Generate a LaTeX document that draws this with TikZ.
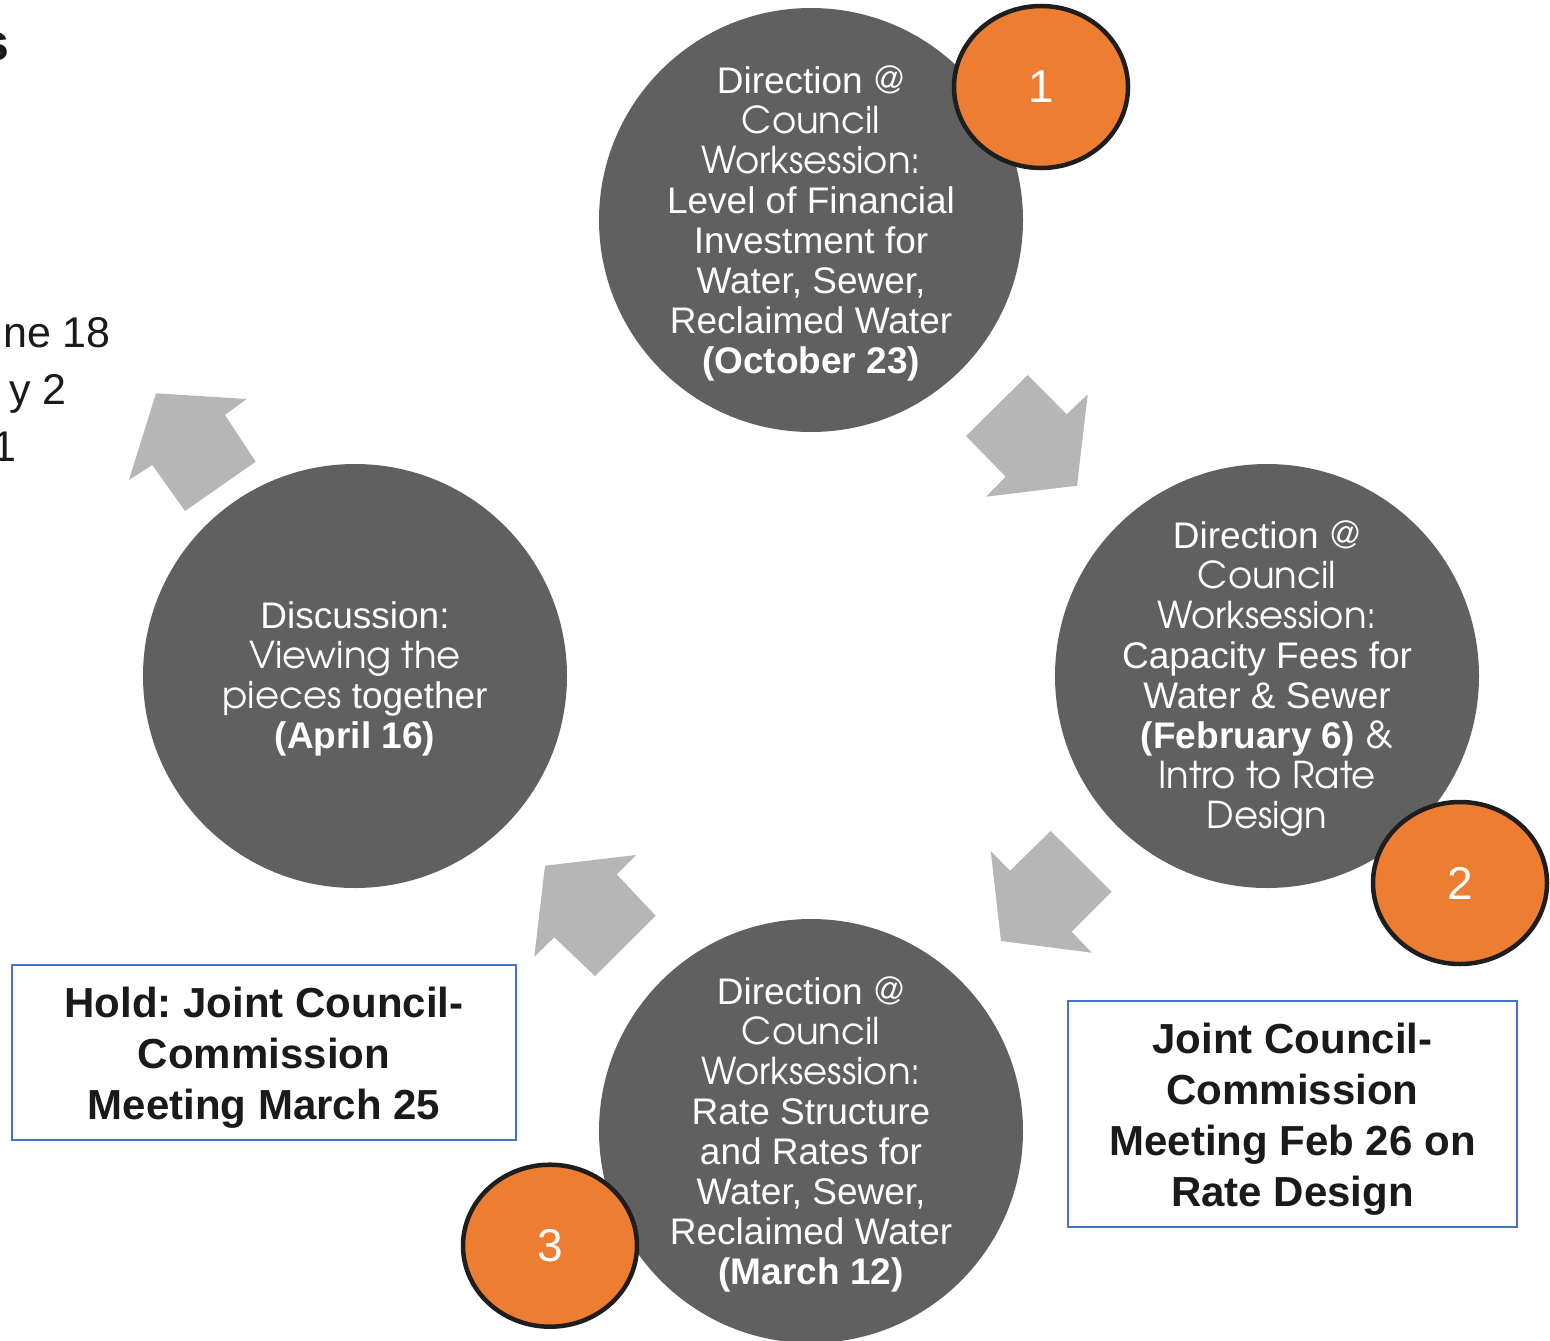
\documentclass[tikz,border=0pt]{standalone}
\usepackage{fontspec}
\setmainfont{Liberation Sans}
\newfontfamily\gothic{texgyreadventor-regular.otf}
\usetikzlibrary{shapes.geometric}
\definecolor{circgray}{HTML}{606060}
\definecolor{arrgray}{HTML}{B6B6B6}
\definecolor{numorange}{HTML}{ED7D31}
\definecolor{rimdark}{HTML}{1E1E1E}
\definecolor{boxblue}{HTML}{4472C4}
\definecolor{inkdark}{HTML}{1A1A1A}
\frenchspacing
\begin{document}
\begin{tikzpicture}[x=1pt,y=-1pt,
  stage/.style={circle, fill=circgray, minimum size=424pt, inner sep=0pt, draw=none},
  stagetext/.style={text=white, align=center, font=\fontsize{37}{40}\selectfont, inner sep=0pt, yshift=-3pt},
  badge/.style={ellipse, fill=numorange, draw=rimdark, line width=4.5pt, minimum width=174pt, minimum height=162pt, inner sep=0pt, text=white, font=\fontsize{46}{50}\selectfont},
  notebox/.style={draw=boxblue, line width=1.5pt, inner sep=0pt},
  notetext/.style={align=center, text=inkdark, inner sep=0pt, font=\bfseries\fontsize{42}{51}\selectfont, yshift=-5pt},
  edgefrag/.style={font=\fontsize{43}{48}\selectfont, text=inkdark, inner sep=0pt, anchor=base east},
  blockarrow/.style={fill=arrgray, draw=none}]
\useasboundingbox (0,0) rectangle (1550,1341);
\clip (0,0) rectangle (1550,1341);

% cut-off text at the left edge
\node[edgefrag, font=\bfseries\fontsize{52}{56}\selectfont] (fs) at (10,60) {s};
\node[edgefrag] (f1) at (111,347) {ne 18};
\node[edgefrag] (f2) at (67,404) {y 2};
\node[edgefrag] (f3) at (17,461) {1};

% block arrows
\fill[blockarrow] (1027.7,375) -- (1066.7,414.3) -- (1087.7,394.3) -- (1077,485.7) -- (986,496.7) -- (1005.7,476.7) -- (966,436) -- cycle;
\fill[blockarrow] (1050.7,831) -- (1111.7,891.7) -- (1071.7,931.7) -- (1091.7,952.7) -- (1001,941) -- (990.7,851) -- (1010,870.7) -- cycle;
\fill[blockarrow] (545,865.7) -- (636,855) -- (616.7,874.3) -- (655.7,915.7) -- (595,976) -- (554.3,937.3) -- (534.3,956.7) -- cycle;
\fill[blockarrow] (156,393.3) -- (246.7,399) -- (225,415) -- (255.7,461.7) -- (185,511) -- (152.3,465) -- (129,480) -- cycle;

% stage circles
\node[stage] (c1) at (811,220) {};
\node[stage] (c2) at (1267,676) {};
\node[stage] (c3) at (811,1131) {};
\node[stage] (c4) at (355,676) {};

\node[stagetext] (t1) at (c1.center) {Direction {\gothic @}\\{\gothic Council}\\{\gothic Worksession:}\\Level of Financial\\Investment for\\Water, Sewer,\\Reclaimed Water\\\textbf{(October 23)}};
\node[stagetext] (t2) at (c2.center) {Direction {\gothic @}\\{\gothic Council}\\{\gothic Worksession:}\\Capacity Fees for\\Water \& Sewer\\\textbf{(February 6)} {\gothic \&}\\{\gothic Intro to Rate}\\{\gothic Design}};
\node[stagetext] (t3) at (c3.center) {Direction {\gothic @}\\{\gothic Council}\\{\gothic Worksession:}\\Rate Structure\\and Rates for\\Water, Sewer,\\Reclaimed Water\\\textbf{(March 12)}};
\node[stagetext] (t4) at (c4.center) {Discussion:\\{\gothic Viewing the}\\{\gothic pieces} together\\\textbf{(April 16)}};

% number badges
\node[badge] (b1) at (1041,87) {1};
\node[badge] (b2) at (1460,883) {2};
\node[badge] (b3) at (550,1245.7) {3};

% meeting boxes
\node[notebox, minimum width=504pt, minimum height=175pt] (m1) at (264,1052.5) {};
\node[notetext] (m1t) at (m1.center) {Hold: Joint Council-\\Commission\\Meeting March 25};
\node[notebox, minimum width=449pt, minimum height=226pt] (m2) at (1292.5,1114) {};
\node[notetext] (m2t) at (m2.center) {Joint Council-\\Commission\\Meeting Feb 26 on\\Rate Design};
\end{tikzpicture}
\end{document}
